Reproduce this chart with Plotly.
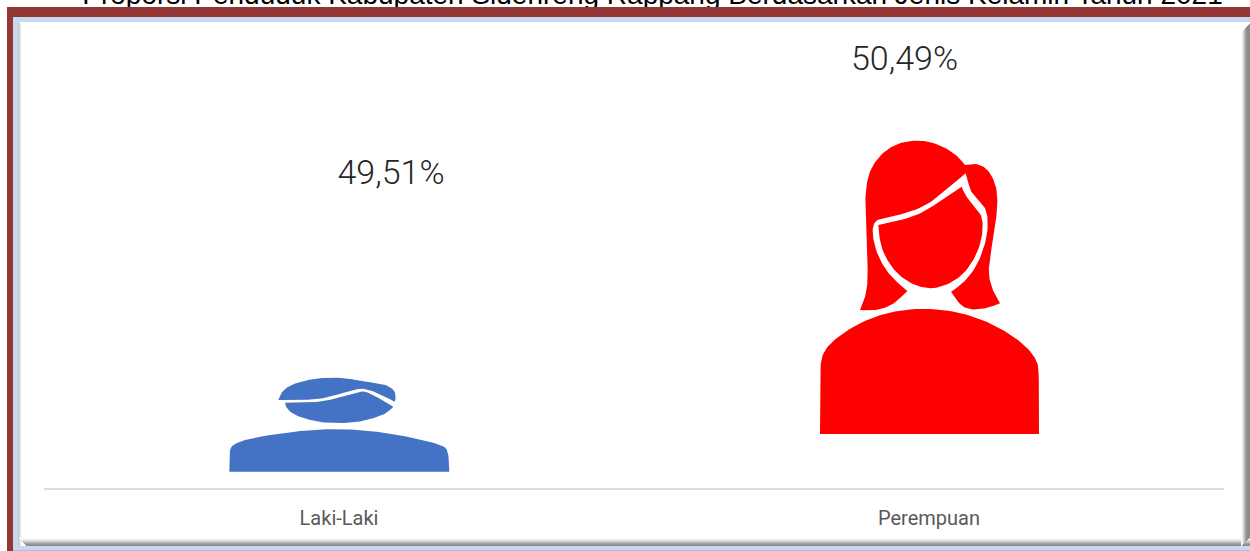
import plotly.graph_objects as go

# ---- data ----
title_text = "Proporsi Penduduk Kabupaten Sidenreng Rappang Berdasarkan Jenis Kelamin Tahun 2021"
categories = ["Laki-Laki", "Perempuan"]
values = [49.51, 50.49]
colors = ["#4472c4", "#ff0000"]

# ---- canvas ----
W, H = 1250, 551
PL, PR, PB = 44, 1224, 488.3          # plot box in page pixels


def px2x(px):
    return (px - PL) / (PR - PL) * 2 - 0.5


def px2y(py):
    return PB - py


# icon outlines, in crop coordinates of each icon (3 units = 1 pixel); third item marks a sharp corner
male_hair = [(235,120,1),(242,100),(262,80),(300,65),(350,55),(400,52),(450,56),(490,65),(520,68),(560,75),(583,90),(588,110),(584,125,1),
             (545,105),(510,90),(485,85),(450,92),(400,108),(370,115),(320,120),(270,120)]
male_face = [(255,128,1),(320,128),(370,124),(400,117),(450,102),(485,92),(510,100),(550,122),(580,140,1),(560,160),(520,175),(470,187),
             (415,190),(360,187),(310,175),(275,160),(258,142)]
male_body = [(88,335,1),(88,270),(100,252),(150,235),(240,220),(330,210),(400,207),(490,210),(580,222),(660,238),(725,255),(745,270),(748,335,1)]
female_hair = [(180,540,1),(195,505),(203,460),(203,400),(197,300),(195,200),(205,130),(235,80),(280,45),(330,32),(380,32),(430,50),(470,75),
               (495,105,1),(530,100),(560,115),(580,145),(592,185),(592,240),(582,310),(570,380),(565,430),(575,475),(600,520,1),(560,535),
               (510,540),(480,525),(453,485,1),(490,460),(530,410),(555,345),(565,290),(560,240),(540,215),(515,190),(505,160),(497,130,1),
               (455,165),(410,205),(360,235),(300,255),(235,265),(218,285),(218,320),(230,370),(260,425),(300,465),(322,483,1),(290,515),
               (255,535),(215,542)]
female_face = [(235,285,1),(300,272),(360,252),(420,215),(485,170,1),(495,195),(520,225),(543,250),(550,290),(540,350),(510,410),(470,450),
               (420,472),(385,476),(340,465),(295,435),(260,390),(240,340)]
female_body = [(60,912,1),(60,710),(68,670),(95,635),(150,595),(220,560),(300,540),(385,535),(470,545),(550,570),(620,605),(680,650),
               (710,690),(717,720),(717,912,1)]

fig = go.Figure()


def round_outline(outline, passes=3):
    """Corner-cutting of a closed outline; points flagged as corners stay sharp."""
    pts = [(p[0], p[1], len(p) > 2) for p in outline]
    for _ in range(passes):
        out = []
        n = len(pts)
        for i in range(n):
            a, b = pts[i], pts[(i + 1) % n]
            if a[2]:
                out.append(a)
            else:
                out.append((a[0] * 0.75 + b[0] * 0.25, a[1] * 0.75 + b[1] * 0.25, False))
            if not b[2]:
                out.append((a[0] * 0.25 + b[0] * 0.75, a[1] * 0.25 + b[1] * 0.75, False))
        pts = out
    return pts


def add_icon(outline, ox, oy, color):
    pts = round_outline(outline)
    pts.append(pts[0])
    fig.add_trace(go.Scatter(x=[px2x(ox + p[0] / 3) for p in pts], y=[px2y(oy + p[1] / 3) for p in pts],
                             mode="lines", fill="toself", fillcolor=color,
                             line=dict(width=0, color=color), hoverinfo="skip", showlegend=False))


for part in (male_hair, male_face, male_body):
    add_icon(part, 200, 360, colors[0])
for part in (female_hair, female_face, female_body):
    add_icon(part, 800, 130, colors[1])

# data labels, dragged away from the bars as in the reference
label_px = [(391, 175), (904.5, 61)]
fig.add_trace(go.Scatter(
    x=[px2x(p[0]) for p in label_px], y=[px2y(p[1]) for p in label_px],
    mode="text", text=[f"{v:.2f}%".replace(".", ",") for v in values],
    textposition="middle center", cliponaxis=False,
    textfont=dict(family="Roboto", size=34, color="#262626", weight=300),
    hoverinfo="skip", showlegend=False))

# title, mostly cut off by the top of the page
fig.add_trace(go.Scatter(
    x=[px2x(652.5)], y=[px2y(11)], mode="text", text=[title_text],
    textposition="top center", cliponaxis=False,
    textfont=dict(family="Liberation Sans", size=28, color="#000000"),
    hoverinfo="skip", showlegend=False))

# ---- frame ----
shapes = []


def rect(x0, y0, x1, y1, color, layer="above"):
    shapes.append(dict(type="rect", xref="paper", yref="paper", x0=x0 / W, x1=x1 / W,
                       y0=1 - y0 / H, y1=1 - y1 / H, fillcolor=color, line_width=0, layer=layer))


rect(7, 7, W, 17, "#953735")
rect(7, 7, 13, 551, "#953735")
rect(13, 17, W, 22, "#c6d9f1")
rect(13, 17, 18, 551, "#c6d9f1")
rect(13, 546, W, 550, "#c6d9f1")
rect(13, 550, W, 551, "#b4bcd8")
# inner bevel
for i, c in enumerate(["#c4c4c4", "#d8d8d8", "#ececec", "#f8f8f8"]):
    rect(18 + i, 22 + i, 19 + i, 546, c)
for i, c in enumerate(["#fafafa", "#efefef", "#dedede", "#cbcbcb", "#b6b6b6", "#a3a3a3", "#949494", "#8a8a8a"]):
    rect(19 + i, 538 + i, W, 539 + i, c)
for i, c in enumerate(["#fafafa", "#ececec", "#d6d6d6", "#bcbcbc", "#a4a4a4", "#949494", "#8a8a8a", "#888888", "#8e8e8e"]):
    rect(1241 + i, 24 + (8 - i), 1242 + i, 546 - i, c)

fig.update_layout(
    width=W, height=H, margin=dict(l=0, r=0, t=0, b=0),
    paper_bgcolor="#ffffff", plot_bgcolor="rgba(0,0,0,0)", showlegend=False, shapes=shapes,
    xaxis=dict(domain=[PL / W, PR / W], range=[-0.5, 1.5], tickmode="array", tickvals=[0, 1], ticktext=categories,
               showgrid=False, zeroline=False, showline=True, linecolor="#dcdcdc", linewidth=2, ticks="", ticklen=0,
               ticklabelstandoff=11, tickfont=dict(family="Roboto", size=20, color="#595959"), fixedrange=True),
    yaxis=dict(domain=[1 - PB / H, 1], range=[0, PB], visible=False, fixedrange=True),
)

fig.write_html("out.html", config={"displayModeBar": False}, post_script="document.body.style.margin='0';")
